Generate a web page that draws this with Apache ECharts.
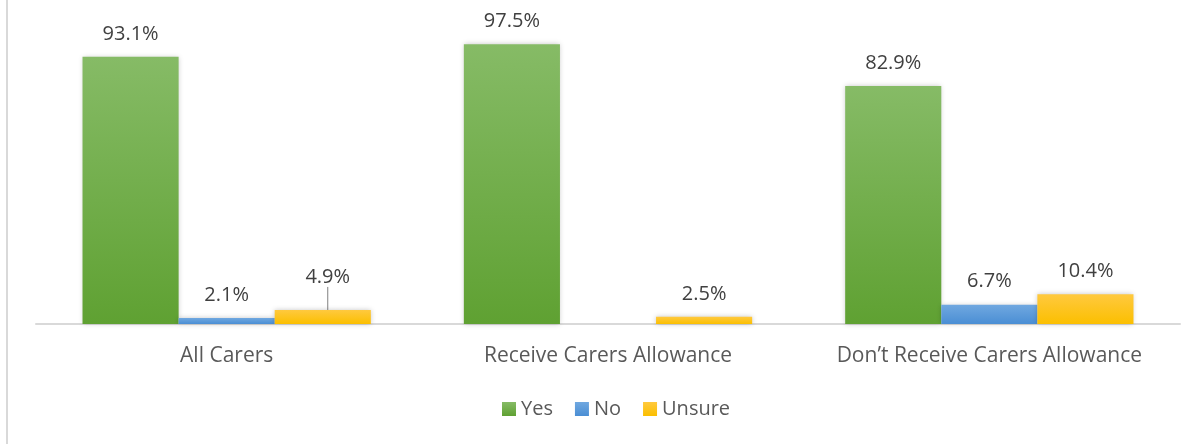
<!DOCTYPE html>
<html>
<head>
<meta charset="utf-8">
<script src="https://cdn.jsdelivr.net/npm/echarts@6/dist/echarts.min.js"></script>
<style>
html,body{margin:0;padding:0;background:#fff;}
#c{width:1200px;height:444px;}
</style>
</head>
<body>
<div id="c"></div>
<script>
var categories = ['All Carers', 'Receive Carers Allowance', 'Don\u2019t Receive Carers Allowance'];
var yesValues = [93.1, 97.5, 82.9];
var noValues = [2.1, '-', 6.7];
var unsureValues = [4.9, 2.5, 10.4];

var FONT = '"Open Sans", "Noto Sans", sans-serif';

function grad(top, bottom) {
  return new echarts.graphic.LinearGradient(0, 0, 0, 1, [
    {offset: 0, color: top}, {offset: 1, color: bottom}
  ]);
}

var labelCommon = {
  show: true,
  position: 'top',
  distance: 13,
  color: '#404040',
  fontSize: 20,
  fontFamily: FONT,
  formatter: function (p) { return p.value.toFixed(1) + '%'; }
};

var shadow = {shadowBlur: 5, shadowColor: 'rgba(0,0,0,0.22)'};

var chart = echarts.init(document.getElementById('c'));
chart.setOption({
  animation: false,
  backgroundColor: '#fff',
  graphic: [{
    type: 'rect', left: 6, top: 0,
    shape: {width: 2, height: 444},
    style: {fill: '#d9d9d9'}, silent: true
  }],
  grid: {left: 36, right: 20, top: 37, bottom: 120},
  legend: {
    bottom: 20,
    left: 497,
    icon: 'rect',
    itemWidth: 14,
    itemHeight: 14,
    itemGap: 22,
    itemTextGap: 6,
    textStyle: {color: '#595959', fontSize: 20, fontFamily: FONT},
    data: ['Yes', 'No', 'Unsure']
  },
  xAxis: {
    type: 'category',
    data: categories,
    axisLine: {show: true, lineStyle: {color: '#d9d9d9', width: 2}},
    axisTick: {show: false},
    axisLabel: {interval: 0, hideOverlap: false, color: '#595959', fontSize: 21, fontFamily: FONT, margin: 22}
  },
  yAxis: {
    type: 'value', min: 0, max: 100, show: false,
    splitLine: {show: false}
  },
  series: [
    {
      name: 'Yes', type: 'bar', data: yesValues,
      barGap: '0%', barCategoryGap: '24.4%',
      itemStyle: Object.assign({color: grad('#86bb66', '#5fa132')}, shadow),
      label: labelCommon
    },
    {
      name: 'No', type: 'bar', data: noValues,
      itemStyle: Object.assign({color: grad('#70a8e0', '#4a8ed4')}, shadow),
      label: labelCommon
    },
    {
      name: 'Unsure', type: 'bar',
      data: unsureValues.map(function (v, i) {
        if (i === 0) {
          return {value: v, labelLine: {show: true, lineStyle: {color: '#808080', width: 1}}};
        }
        return v;
      }),
      itemStyle: Object.assign({color: grad('#ffc93f', '#fbbf00')}, shadow),
      label: labelCommon,
      labelLayout: function (p) {
        return p.dataIndex === 0 ? {dy: -10, dx: 5} : {};
      },
      labelLine: {show: false}
    }
  ],
  color: ['#70ad47', '#5b9bd5', '#ffc000']
});
</script>
</body>
</html>
